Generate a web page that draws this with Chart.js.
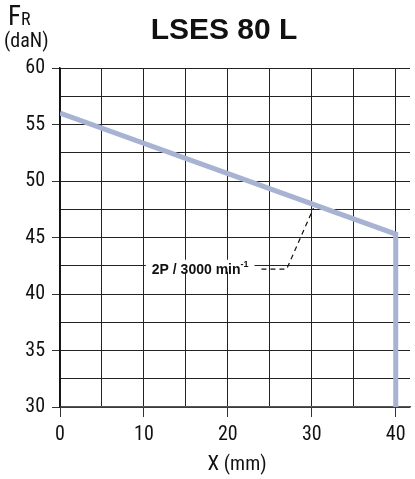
<!DOCTYPE html>
<html>
<head>
<meta charset="utf-8">
<script src="https://cdn.jsdelivr.net/npm/chart.js@4/dist/chart.umd.min.js"></script>
<style>
  html, body { margin: 0; padding: 0; background: #fff; }
  #wrap { width: 415px; height: 479px; }
</style>
</head>
<body>
<div id="wrap"><canvas id="chart" width="415" height="479"></canvas></div>
<script>
// Chart data
const chartTitle = "LSES 80 L";
const curveX = [0, 40, 40];
const curveY = [56, 45.3, 30];
const leaderX = [24, 27, 30.2];
const leaderY = [42.2, 42.2, 47.6];
const noteText = "2P / 3000 min";
const noteSup = "-1";
const noteAt = [16.7, 42.5];

const NARROW = "'Liberation Sans Narrow', 'Arial Narrow', 'Roboto Condensed', 'Liberation Sans', Arial, sans-serif";
const SANS = "'Liberation Sans', Arial, sans-serif";

// draws title, axis captions and the annotation label
const textPlugin = {
    id: "texts",
    afterDatasetsDraw(chart) {
        const ctx = chart.ctx;
        const xs = chart.scales.x, ys = chart.scales.y;
        ctx.save();
        ctx.fillStyle = "#111";
        ctx.textBaseline = "alphabetic";

        // title
        ctx.font = "bold 30px " + SANS;
        ctx.textAlign = "center";
        ctx.fillText(chartTitle, 224, 39);

        // y caption
        ctx.textAlign = "left";
        ctx.font = "27px " + NARROW;
        ctx.fillText("F", 8, 25);
        const fw = ctx.measureText("F").width;
        ctx.font = "18px " + NARROW;
        ctx.fillText("R", 8 + fw, 25);
        ctx.font = "20px " + NARROW;
        ctx.fillText("(daN)", 4, 47);

        // x caption
        ctx.font = "21px " + NARROW;
        const xw = ctx.measureText("X ").width;
        ctx.font = "20px " + NARROW;
        const mw = ctx.measureText("(mm)").width;
        let sx = 237 - (xw + mw) / 2;
        ctx.font = "21px " + NARROW;
        ctx.fillText("X ", sx, 470);
        ctx.font = "20px " + NARROW;
        ctx.fillText("(mm)", sx + xw, 470);

        // annotation label
        const px = xs.getPixelForValue(noteAt[0]);
        const py = ys.getPixelForValue(noteAt[1]);
        ctx.font = "bold 14px " + SANS;
        const tw = ctx.measureText(noteText).width;
        ctx.font = "bold 9px " + SANS;
        const sw = ctx.measureText(noteSup).width;
        const total = tw + sw;
        ctx.fillStyle = "#fff";
        ctx.fillRect(px - total / 2 - 6, py - 6, total + 12, 12);
        ctx.fillStyle = "#111";
        ctx.font = "bold 14px " + SANS;
        ctx.fillText(noteText, px - total / 2, py + 8);
        ctx.font = "bold 9px " + SANS;
        ctx.fillText(noteSup, px - total / 2 + tw, py + 1);
        ctx.restore();
    }
};

new Chart(document.getElementById("chart"), {
    type: "line",
    data: {
        datasets: [{
            data: curveX.map((x, i) => ({ x: x, y: curveY[i] })),
            borderColor: "#a8b3d3",
            borderWidth: 5,
            pointRadius: 0,
            fill: false,
            tension: 0,
            borderJoinStyle: "miter",
            borderCapStyle: "butt"
        }, {
            data: leaderX.map((x, i) => ({ x: x, y: leaderY[i] })),
            borderColor: "#111",
            borderWidth: 1.2,
            borderDash: [5, 4],
            pointRadius: 0,
            fill: false,
            tension: 0
        }]
    },
    options: {
        responsive: false,
        animation: false,
        layout: { padding: { top: 68, right: 5, left: 0, bottom: 0 } },
        plugins: { legend: { display: false }, tooltip: { enabled: false } },
        scales: {
            x: {
                type: "linear",
                min: 0,
                max: 41.7,
                afterFit: s => { s.height = 72; },
                ticks: {
                    stepSize: 5,
                    includeBounds: false,
                    maxRotation: 0,
                    padding: 6,
                    color: "#111",
                    font: { size: 20, family: NARROW },
                    callback: v => (v % 10 === 0 ? v : "")
                },
                grid: {
                    color: "#222",
                    lineWidth: 1,
                    tickLength: 10,
                    tickColor: c => (c.tick && c.tick.value % 10 === 0 ? "#333" : "rgba(0,0,0,0)")
                },
                border: { color: "#555", width: 1.5 }
            },
            y: {
                min: 30,
                max: 60,
                afterFit: s => { s.width = 60; },
                ticks: {
                    stepSize: 2.5,
                    padding: 7,
                    color: "#111",
                    font: { size: 20, family: NARROW },
                    callback: v => (v % 5 === 0 ? v : "")
                },
                grid: {
                    color: "#222",
                    lineWidth: 1,
                    tickLength: 8,
                    tickColor: c => (c.tick && c.tick.value % 5 === 0 ? "#333" : "rgba(0,0,0,0)")
                },
                border: { color: "#111", width: 1.5 }
            }
        }
    },
    plugins: [textPlugin]
});
</script>
</body>
</html>
